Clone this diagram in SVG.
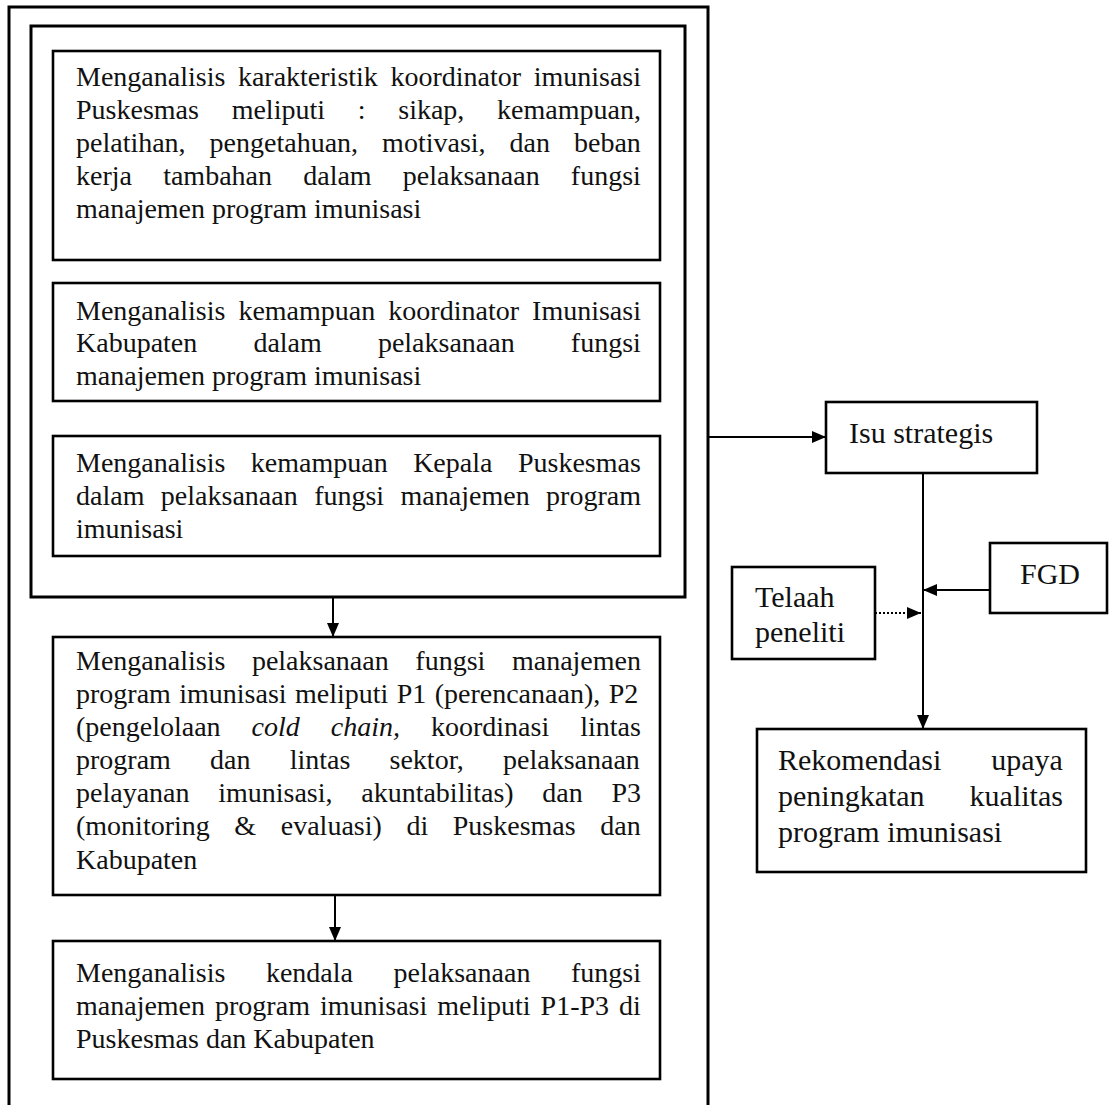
<svg xmlns="http://www.w3.org/2000/svg" width="1109" height="1105" viewBox="0 0 1109 1105">
<style>
.box{fill:none;stroke:#000;stroke-width:2.6}
.frame{fill:none;stroke:#000;stroke-width:3}
.t{font-family:"Liberation Serif","Times New Roman",serif;font-size:28px;fill:#111}
.tr{font-family:"Liberation Serif","Times New Roman",serif;font-size:30px;fill:#111}
.c{fill:none;stroke:#000;stroke-width:2}
</style>
<defs>
<marker id="ah" viewBox="0 0 14 12" refX="14" refY="6" markerWidth="14" markerHeight="12" orient="auto" markerUnits="userSpaceOnUse">
<path d="M0,0 L14,6 L0,12 z" fill="#000"/>
</marker>
</defs>
<rect width="1109" height="1105" fill="#fff"/>
<g id="outer-frame">
<path class="frame" d="M9,1110 V7 H708 V1110"/>
</g>
<g id="inner-group">
<rect class="frame" x="31" y="26" width="654" height="571"/>
</g>
<g id="box1">
<rect class="box" x="53" y="51" width="607" height="209"/>
<text class="t" x="76" y="86" word-spacing="5.6">Menganalisis karakteristik koordinator imunisasi</text>
<text class="t" x="76" y="119" word-spacing="25.75">Puskesmas meliputi : sikap, kemampuan,</text>
<text class="t" x="76" y="152" word-spacing="17">pelatihan, pengetahuan, motivasi, dan beban</text>
<text class="t" x="76" y="185" word-spacing="24.2">kerja tambahan dalam pelaksanaan fungsi</text>
<text class="t" x="76" y="218">manajemen program imunisasi</text>
</g>
<g id="box2">
<rect class="box" x="53" y="283" width="607" height="118"/>
<text class="t" x="76" y="320" word-spacing="6.1">Menganalisis kemampuan koordinator Imunisasi</text>
<text class="t" x="76" y="352" word-spacing="49.1">Kabupaten dalam pelaksanaan fungsi</text>
<text class="t" x="76" y="385">manajemen program imunisasi</text>
</g>
<g id="box3">
<rect class="box" x="53" y="436" width="607" height="120"/>
<text class="t" x="76" y="472" word-spacing="18.5">Menganalisis kemampuan Kepala Puskesmas</text>
<text class="t" x="76" y="505" word-spacing="9.45">dalam pelaksanaan fungsi manajemen program</text>
<text class="t" x="76" y="538">imunisasi</text>
</g>
<g id="box4">
<rect class="box" x="53" y="637" width="607" height="258"/>
<text class="t" x="76" y="670" word-spacing="19.6">Menganalisis pelaksanaan fungsi manajemen</text>
<text class="t" x="76" y="703" word-spacing="1.4">program imunisasi meliputi P1 (perencanaan), P2</text>
<text class="t" x="76" y="736" word-spacing="24">(pengelolaan <tspan font-style="italic">cold chain,</tspan> koordinasi lintas</text>
<text class="t" x="76" y="769" word-spacing="32.2">program dan lintas sektor, pelaksanaan</text>
<text class="t" x="76" y="802" word-spacing="21.7">pelayanan imunisasi, akuntabilitas) dan P3</text>
<text class="t" x="76" y="835" word-spacing="17.6">(monitoring &amp; evaluasi) di Puskesmas dan</text>
<text class="t" x="76" y="869">Kabupaten</text>
</g>
<g id="box5">
<rect class="box" x="53" y="941" width="607" height="138"/>
<text class="t" x="76" y="982" word-spacing="33.6">Menganalisis kendala pelaksanaan fungsi</text>
<text class="t" x="76" y="1015" word-spacing="3">manajemen program imunisasi meliputi P1-P3 di</text>
<text class="t" x="76" y="1048">Puskesmas dan Kabupaten</text>
</g>
<g id="isu">
<rect class="box" x="826" y="402" width="211" height="71"/>
<text class="tr" x="849" y="443">Isu strategis</text>
</g>
<g id="fgd">
<rect class="box" x="990" y="543" width="117" height="70"/>
<text class="tr" x="1020" y="584">FGD</text>
</g>
<g id="telaah">
<rect class="box" x="732" y="567" width="143" height="92"/>
<text class="tr" x="755" y="607">Telaah</text>
<text class="tr" x="755" y="642">peneliti</text>
</g>
<g id="rekomendasi">
<rect class="box" x="757" y="729" width="329" height="143"/>
<text class="tr" x="778" y="770" word-spacing="42.5">Rekomendasi upaya</text>
<text class="tr" x="778" y="806" word-spacing="37.5">peningkatan kualitas</text>
<text class="tr" x="778" y="842">program imunisasi</text>
</g>
<g id="connectors">
<line class="c" x1="333" y1="597" x2="333" y2="637" marker-end="url(#ah)"/>
<line class="c" x1="335" y1="895" x2="335" y2="941" marker-end="url(#ah)"/>
<line class="c" x1="708" y1="437" x2="826" y2="437" marker-end="url(#ah)"/>
<line class="c" x1="923" y1="473" x2="923" y2="729" marker-end="url(#ah)"/>
<line class="c" x1="990" y1="590" x2="923" y2="590" stroke-width="2.6" marker-end="url(#ah)"/>
<line class="c" x1="875" y1="613" x2="921" y2="613" stroke-dasharray="2 2" marker-end="url(#ah)"/>
</g>
</svg>
